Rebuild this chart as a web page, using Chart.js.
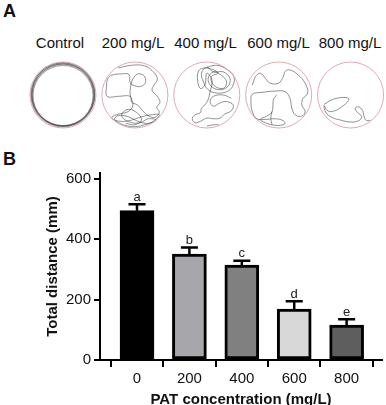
<!DOCTYPE html>
<html>
<head>
<meta charset="utf-8">
<script src="https://cdn.jsdelivr.net/npm/chart.js@4.4.0/dist/chart.umd.min.js"></script>
<style>
  body { margin: 0; width: 386px; height: 405px; overflow: hidden; background: #fff; position: relative;
         font-family: "Liberation Sans", Arial, Helvetica, sans-serif; }
  .lbl { position: absolute; color: #111; white-space: nowrap; line-height: 1; }
  .panel { font-weight: bold; font-size: 18px; }
  .grp { font-size: 15px; transform: translateX(-50%); }
  #chartA { position: absolute; left: 0; top: 55px; }
  #chartB { position: absolute; left: 0; top: 140px; }
</style>
</head>
<body>
<div class="lbl panel" style="left:3px;top:2px">A</div>
<div class="lbl panel" style="left:3px;top:150px">B</div>
<div id="groupLabels"></div>
<canvas id="chartA" width="386" height="80"></canvas>
<canvas id="chartB" width="386" height="275"></canvas>
<script>
// ---- panel B data ----
const concentrations = ['0', '200', '400', '600', '800'];
const meanDistance = [495, 351, 315, 169, 116];
const semDistance = [21, 22, 14, 26, 19];
const sigLetters = ['a', 'b', 'c', 'd', 'e'];
const yTicks = [0, 200, 400, 600];

// ---- panel A data (arena grid: 0..100 across each dish) ----
const arenaGroups = ['Control', '200 mg/L', '400 mg/L', '600 mg/L', '800 mg/L'];
const controlRings = [[50, 50, 31], [50, 49.4, 31.6], [50.3, 50.6, 30.4], [49.6, 50, 32], [50, 50.9, 30], [50.2, 49, 31.9], [49.8, 49.7, 30.8], [50.4, 50.2, 31.3]];
const track200 = [[25,9],[45,5],[65,6],[79,16],[84,26],[79,35],[76,43],[83,51],[88,61],[83,69],[87,76],[80,84],[70,81],[61,73],[54,65],[45,61],[43,52],[25,52],[8,52],[7,37],[9,25],[15,20],[30,18],[41,19],[43,32],[50,36],[59,37],[66,31],[64,21],[55,18],[48,24],[44,35],[43,50],[47,65],[40,75],[25,79],[15,84],[22,90],[35,96],[50,98],[65,95],[78,90],[87,80],[75,80],[60,83],[45,88],[30,90],[19,87],[25,81],[40,83],[55,90],[70,93],[82,88],[70,86],[58,92],[42,91],[30,82],[38,72],[52,76],[60,88],[50,95],[36,93]];
const track400 = [[50,8],[65,5],[80,11],[91,22],[89,37],[80,45],[65,47],[52,42],[45,30],[42,17],[50,8],[60,15],[75,15],[85,25],[82,37],[70,42],[57,37],[52,25],[60,15],[72,20],[80,30],[75,40],[60,35],[57,22],[67,17],[55,10],[42,10],[37,15],[36,27],[40,40],[47,35],[50,17],[58,28],[55,45],[52,57],[47,65],[42,70],[40,77],[32,80],[28,86],[32,92],[40,90],[50,85],[60,86],[70,85],[77,79],[87,74],[90,65],[80,60],[70,62],[60,67],[55,60],[60,52],[75,50],[87,55]];
const track400b = [[50,97],[62,95],[68,95]];
const track600 = [[10,35],[15,22],[22,17],[30,25],[37,32],[50,32],[57,22],[60,14],[67,12],[80,20],[90,32],[94,47],[87,55],[85,65],[90,75],[85,82],[75,80],[70,70],[67,55],[60,45],[45,44],[25,46],[10,49],[8,60],[10,75],[17,86],[30,87],[45,86],[57,89],[59,94],[45,96],[30,92],[22,87],[32,82],[40,75],[42,57],[47,50]];
const track600b = [[40,75],[38,85],[40,95]];
const track800 = [[10,64],[25,56],[45,54],[47,58],[35,69],[22,75],[14,73],[10,66],[12,76],[22,84],[35,88],[50,91],[62,89],[67,83],[60,76],[57,70],[62,68],[68,73],[70,81],[73,88],[80,89]];

const FONT = '"Liberation Sans", Arial, Helvetica, sans-serif';
const ARENA_STEP = 108.94;               // dish spacing in grid units
const labelX = [60, 133, 205.5, 278.5, 350];
const barFill = ['#000000', '#a7a7ab', '#808080', '#d8d8d8', '#5e5e5e'];

// group labels as real text
let html = '';
arenaGroups.forEach((g, i) => {
  html += '<div class="lbl grp" style="left:' + labelX[i] + 'px;top:35px">' + g + '</div>';
});
document.getElementById('groupLabels').innerHTML = html;

function toArena(track, k) {
  return track.map(p => ({x: k * ARENA_STEP + p[0], y: p[1]}));
}

const trackStyle = {showLine: true, tension: 0.4, pointRadius: 0, borderWidth: 0.7, borderColor: 'rgba(60,60,60,0.8)', fill: false, clip: false};

new Chart(document.getElementById('chartA'), {
  type: 'scatter',
  data: {
    datasets: [
      {data: arenaGroups.map((g, i) => ({x: i * ARENA_STEP + 50, y: 50})), pointRadius: 33, clip: false,
       pointBackgroundColor: 'rgba(0,0,0,0)', pointBorderColor: '#d9a2a9', pointBorderWidth: 0.9},
      {data: controlRings.map(r => ({x: r[0], y: r[1]})), pointRadius: controlRings.map(r => r[2]), clip: false,
       pointBackgroundColor: 'rgba(0,0,0,0)', pointBorderColor: 'rgba(70,70,70,0.55)', pointBorderWidth: 0.7},
      Object.assign({data: toArena(track200, 1)}, trackStyle),
      Object.assign({data: toArena(track400, 2)}, trackStyle),
      Object.assign({data: toArena(track400b, 2)}, trackStyle),
      Object.assign({data: toArena(track600, 3)}, trackStyle),
      Object.assign({data: toArena(track600b, 3)}, trackStyle),
      Object.assign({data: toArena(track800, 4)}, trackStyle)
    ]
  },
  options: {
    responsive: false, animation: false,
    layout: {padding: 0, autoPadding: false},
    plugins: {legend: {display: false}, tooltip: {enabled: false}},
    scales: {
      x: {type: 'linear', display: false, min: -45.45, max: 539.4},
      y: {type: 'linear', display: false, min: -10.6, max: 110.6, reverse: true}
    }
  }
});

const errorBars = {
  id: 'errorBars',
  afterDatasetsDraw(chart) {
    const {ctx, scales: {x, y}} = chart;
    ctx.save();
    ctx.strokeStyle = '#000';
    ctx.lineWidth = 2.5;
    ctx.fillStyle = '#222';
    ctx.font = '13px ' + FONT;
    ctx.textAlign = 'center';
    ctx.textBaseline = 'alphabetic';
    meanDistance.forEach((m, i) => {
      const px = x.getPixelForValue(i);
      const base = y.getPixelForValue(m);
      const top = y.getPixelForValue(m + semDistance[i]);
      ctx.beginPath();
      ctx.moveTo(px, base);
      ctx.lineTo(px, top);
      ctx.moveTo(px - 8.5, top);
      ctx.lineTo(px + 8.5, top);
      ctx.stroke();
      ctx.fillText(sigLetters[i], px, top - 3.5);
    });
    ctx.restore();
  }
};

new Chart(document.getElementById('chartB'), {
  type: 'bar',
  data: {
    datasets: [{
      data: meanDistance.map((v, i) => ({x: i, y: v})),
      backgroundColor: barFill,
      borderColor: '#000',
      borderWidth: 3,
      borderSkipped: false,
      barThickness: 34
    }]
  },
  options: {
    responsive: false, animation: false,
    layout: {padding: {top: 33, right: 4, left: 0, bottom: 0}},
    plugins: {legend: {display: false}, tooltip: {enabled: false}},
    scales: {
      x: {
        type: 'linear', min: -0.706, max: 4.675, offset: false,
        afterBuildTicks: s => { s.ticks = concentrations.map((c, i) => ({value: i})); },
        afterFit: s => { s.height = 55; },
        grid: {display: true, drawOnChartArea: false, drawTicks: true, tickLength: 7, color: '#000', lineWidth: 2},
        border: {display: true, color: '#000', width: 2},
        ticks: {color: '#111', font: {size: 15, family: FONT}, padding: 3, maxRotation: 0, autoSkip: false,
                callback: (v, i) => concentrations[i]},
        title: {display: true, text: 'PAT concentration (mg/L)', color: '#111',
                font: {size: 15, weight: 'bold', family: FONT}, padding: {top: 0, bottom: 6.3}}
      },
      y: {
        min: 0, max: 620,
        afterBuildTicks: s => { s.ticks = yTicks.map(v => ({value: v})); },
        afterFit: s => { s.width = 100; },
        grid: {display: true, drawOnChartArea: false, drawTicks: true, tickLength: 6, color: '#000', lineWidth: 2},
        border: {display: true, color: '#000', width: 2},
        ticks: {color: '#111', font: {size: 15, family: FONT}, padding: 3},
        title: {display: true, text: 'Total distance (mm)', color: '#111',
                font: {size: 15, weight: 'bold', family: FONT}, padding: {top: 44, bottom: 0}}
      }
    }
  },
  plugins: [errorBars]
});
</script>
</body>
</html>
